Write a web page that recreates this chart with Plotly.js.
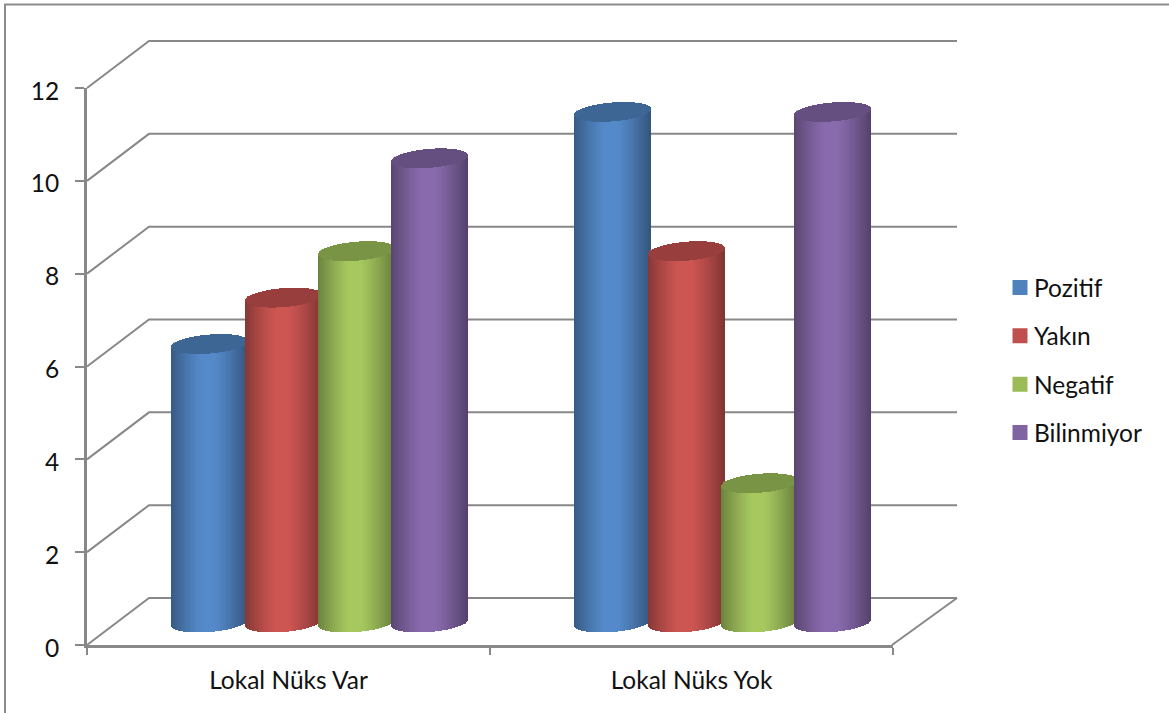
<!DOCTYPE html>
<html>
<head>
<meta charset="utf-8">
<script src="https://cdn.plot.ly/plotly-3.0.1.min.js"></script>
<style>html,body{margin:0;padding:0;background:#fff}#chart{width:1169px;height:713px}</style>
</head>
<body>
<div id="chart"></div>
<script>
// Chart data
const categories = ['Lokal Nüks Var', 'Lokal Nüks Yok'];
const pozitif = [6, 11];
const yakin = [7, 8];
const negatif = [8, 3];
const bilinmiyor = [10, 11];
const yTicks = [0, 2, 4, 6, 8, 10, 12];

// Series styling
const seriesDefs = [
  {name: 'Pozitif', values: pozitif, rgb: [79, 129, 189]},
  {name: 'Yakın', values: yakin, rgb: [192, 80, 77]},
  {name: 'Negatif', values: negatif, rgb: [155, 187, 89]},
  {name: 'Bilinmiyor', values: bilinmiyor, rgb: [128, 100, 162]}
];

// Plot frame in pixels; one category spans 403 px, one value unit 46.42 px
const W = 1169, H = 713;
const frame = {l: 87, r: 893, t: 88, b: 645};
const pxX = (frame.r - frame.l) / 2;
const pxY = (frame.b - frame.t) / 12;

// Oblique depth of the box and cylinder proportions, in pixels
const depthX = 62, depthY = 47;
const floorLift = 22.5 / pxY;
const groupShift = 31.2 / pxX;
const slot = 73.4 / pxX;
const stripCount = 77;
const cylWidth = stripCount / pxX;
const lidB = 9.5, lidTilt = 3;

const toPaperX = px => (px - frame.l) / (frame.r - frame.l);
const toPaperY = py => (frame.b - py) / (frame.b - frame.t);

function shade(rgb, f) {
  return 'rgb(' + rgb.map(c => Math.min(255, Math.round(c * f))).join(',') + ')';
}

// Brightness across a cylinder, u runs 0..1 from its left edge to its right edge
function sideLight(u) {
  const d = Math.abs(u - 0.48);
  const ramp = Math.max(0, (d - 0.07) / 0.45);
  return 1.07 - 0.42 * Math.pow(ramp, 1.25);
}

const traces = [];
seriesDefs.forEach((s, si) => {
  const offset = (si - 1.5) * slot;
  const centers = categories.map((_, ci) => ci + groupShift + offset);

  // Solid column carrying the series value and its legend entry
  traces.push({
    type: 'bar', name: s.name, legendgroup: s.name, hoverinfo: 'skip', cliponaxis: false, opacity: 1,
    x: centers, y: s.values, base: s.values.map(() => floorLift),
    width: cylWidth * 0.9,
    marker: {color: shade(s.rgb, 1), opacity: 1, line: {width: 3, color: shade(s.rgb, 1)}}
  });

  // Shaded cylinder wall and lid, built from one-pixel strips per column
  const bodyX = [], bodyY = [], bodyBase = [], bodyColor = [];
  const lidX = [], lidY = [], lidBase = [];
  s.values.forEach((v, ci) => {
    for (let i = 0; i < stripCount; i++) {
      const u = (i + 0.5) / stripCount;
      const t = 2 * u - 1;
      const half = lidB * Math.sqrt(1 - t * t) / pxY;
      const slant = lidTilt * t / pxY;
      const lower = floorLift + slant - half;
      bodyX.push(centers[ci] + (u - 0.5) * cylWidth);
      bodyY.push(v);
      bodyBase.push(lower);
      bodyColor.push(shade(s.rgb, sideLight(u)));
      lidX.push(centers[ci] + (u - 0.5) * cylWidth);
      lidY.push(2 * half);
      lidBase.push(v + lower);
    }
  });
  traces.push({
    type: 'bar', showlegend: false, legendgroup: s.name, hoverinfo: 'skip', cliponaxis: false, opacity: 1,
    x: bodyX, y: bodyY, base: bodyBase, width: cylWidth / stripCount,
    marker: {color: bodyColor, opacity: 1, line: {width: 0}}
  });
  traces.push({
    type: 'bar', showlegend: false, legendgroup: s.name, hoverinfo: 'skip', cliponaxis: false, opacity: 1,
    x: lidX, y: lidY, base: lidBase, width: cylWidth / stripCount,
    marker: {color: shade(s.rgb, 0.79), opacity: 1, line: {width: 0}}
  });
});

// Box walls behind the cylinders: side-wall diagonals, back-wall rules, floor edges
const wallColor = '#888888';
const shapes = [];
const gridY = yTicks.map(v => frame.b - v * pxY);
gridY.forEach(py => {
  shapes.push({
    type: 'path', layer: 'below', xref: 'paper', yref: 'paper',
    path: 'M' + toPaperX(frame.l) + ',' + toPaperY(py) +
          'L' + toPaperX(frame.l + depthX) + ',' + toPaperY(py - depthY) +
          'L' + toPaperX(957) + ',' + toPaperY(py - depthY),
    line: {color: wallColor, width: 2}
  });
});
shapes.push({
  type: 'line', layer: 'below', xref: 'paper', yref: 'paper',
  x0: toPaperX(frame.r - 1), y0: toPaperY(frame.b), x1: toPaperX(957), y1: toPaperY(frame.b - depthY),
  line: {color: wallColor, width: 2}
});
// Outer chart-area border, open on the right and bottom
shapes.push({
  type: 'path', layer: 'below', xref: 'paper', yref: 'paper',
  path: 'M' + toPaperX(5) + ',' + toPaperY(H) + 'L' + toPaperX(5) + ',' + toPaperY(4.5) +
        'L' + toPaperX(W) + ',' + toPaperY(4.5),
  line: {color: '#8c8c8c', width: 2}
});

const font = {family: 'Lato, Carlito, sans-serif', size: 24.5, color: '#111111'};
const layout = {
  width: W, height: H, showlegend: true, barmode: 'overlay', bargap: 0, bargroupgap: 0,
  paper_bgcolor: '#ffffff', plot_bgcolor: 'rgba(0,0,0,0)',
  margin: {l: frame.l, r: W - frame.r, t: frame.t, b: H - frame.b, pad: 0},
  font: font,
  xaxis: {
    range: [-0.5, 1.5], showgrid: false, zeroline: false, fixedrange: true,
    showline: true, linecolor: wallColor, linewidth: 3,
    tickmode: 'array', tickvals: [0, 1], ticktext: categories, ticks: '',
    ticklabelstandoff: 12, tickfont: font,
    minor: {ticks: 'outside', tickmode: 'array', tickvals: [-0.5, 0.5, 1.5], ticklen: 7, tickwidth: 2, tickcolor: wallColor, showgrid: false}
  },
  yaxis: {
    range: [0, 12], showgrid: false, zeroline: false, fixedrange: true,
    showline: true, linecolor: wallColor, linewidth: 3,
    tickmode: 'array', tickvals: yTicks, ticks: 'outside', ticklen: 9, tickwidth: 2, tickcolor: wallColor,
    ticklabelstandoff: 11, ticklabelshift: 3, tickfont: font
  },
  legend: {
    x: toPaperX(994), xanchor: 'left', y: toPaperY(265), yanchor: 'top',
    traceorder: 'grouped', tracegroupgap: 13.5, font: font,
    bgcolor: 'rgba(0,0,0,0)', borderwidth: 0, itemclick: false, itemdoubleclick: false
  },
  shapes: shapes
};

Plotly.newPlot('chart', traces, layout, {displayModeBar: false, staticPlot: true}).then(gd => {
  // Pull the legend keys closer to their labels
  gd.querySelectorAll('.legend .legendsymbols').forEach(g => g.setAttribute('transform', 'translate(6,0)'));
});
</script>
</body>
</html>
